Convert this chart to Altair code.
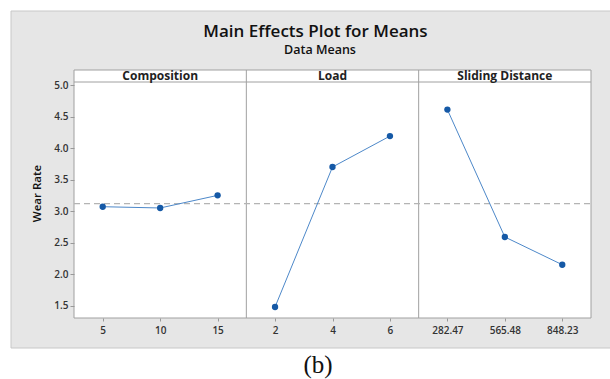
import altair as alt
import pandas as pd

factors = ["Composition", "Composition", "Composition", "Load", "Load", "Load",
           "Sliding Distance", "Sliding Distance", "Sliding Distance"]
levels = ["5", "10", "15", "2", "4", "6", "282.47", "565.48", "848.23"]
wear_rate = [3.07, 3.05, 3.25, 1.48, 3.70, 4.19, 4.61, 2.59, 2.15]
grand_mean = 3.12
panel_names = ["Composition", "Load", "Sliding Distance"]
panel_centers = ["Composition|10", "Load|4", "Sliding Distance|565.48"]
y_ticks = [1.5, 2.0, 2.5, 3.0, 3.5, 4.0, 4.5, 5.0]

keys = [f"{f}|{l}" for f, l in zip(factors, levels)]
df = pd.DataFrame({"factor": factors, "key": keys, "wear": wear_rate})
hdr = pd.DataFrame({"name": panel_names, "key": panel_centers})

W, H = 517, 236
FONT = "Open Sans"

xscale = alt.Scale(type="point", domain=keys, padding=0.5)
yscale = alt.Scale(domain=[1.305, 5.048], nice=False, zero=False)

X = alt.X("key:N", scale=xscale, sort=keys,
          axis=alt.Axis(title=None, labelExpr="split(datum.label, '|')[1]",
                        labelAngle=0, labelFont=FONT, labelFontSize=10,
                        labelFontWeight=600, labelColor="#333333",
                        tickSize=3, tickColor="#999999", labelPadding=4,
                        labelOverlap=False, labelBound=False,
                        domain=False, grid=False, zindex=1))
Y = alt.Y("wear:Q", scale=yscale,
          axis=alt.Axis(title="Wear Rate", values=y_ticks, tickCount=20, format=".1f",
                        labelFont=FONT, labelFontSize=10, labelFontWeight=600,
                        labelColor="#333333", tickSize=4, tickColor="#999999",
                        labelPadding=2, labelOverlap=False, labelBound=False,
                        labelFlush=False,
                        domain=False, grid=False, zindex=1,
                        titleFont=FONT, titleFontSize=11.5, titleFontWeight=600,
                        titleColor="#111111", titleX=-37, titleY=111,
                        titleAngle=-90, titleAlign="center", titleBaseline="middle"))

base = alt.Chart(df)
one = "datum.key == 'Composition|5'"

gray_bg = base.mark_rect(fill="#e6e6e6", stroke="#c8c8c8", strokeWidth=1).encode(
    x=alt.value(-63), x2=alt.value(W + 30), y=alt.value(-71), y2=alt.value(266)
).transform_filter(one)

plot_bg = base.mark_rect(fill="white", stroke="#a0a0a0", strokeWidth=1).encode(
    x=alt.value(0), x2=alt.value(W), y=alt.value(-12), y2=alt.value(H)
).transform_filter(one)

strip_line = base.mark_rule(color="#a0a0a0", strokeWidth=1).encode(
    x=alt.value(0), x2=alt.value(W), y=alt.value(0)
).transform_filter(one)

div1 = base.mark_rule(color="#a0a0a0", strokeWidth=1).encode(
    x=alt.value(W / 3), y=alt.value(-12), y2=alt.value(H)
).transform_filter(one)
div2 = base.mark_rule(color="#a0a0a0", strokeWidth=1).encode(
    x=alt.value(2 * W / 3), y=alt.value(-12), y2=alt.value(H)
).transform_filter(one)

mean_line = base.mark_rule(color="#b4b4b4", strokeDash=[6, 4], strokeWidth=1.3).encode(
    y=alt.datum(grand_mean, scale=yscale), x=alt.value(0), x2=alt.value(W)
).transform_filter(one)

lines = base.mark_line(color="#4d88c9", strokeWidth=1).encode(
    x=X, y=Y, detail="factor:N"
)
points = base.mark_point(filled=True, shape="circle", size=40, color="#1559a6",
                         opacity=1).encode(x=X, y=Y)

headers = alt.Chart(hdr).mark_text(font=FONT, fontSize=12, fontWeight="bold",
                                   color="#222222", baseline="alphabetic").encode(
    x=alt.X("key:N", scale=xscale, sort=keys), y=alt.value(-2), text="name:N"
)

title = base.mark_text(font=FONT, fontSize=17, fontWeight=600, color="#111111",
                       baseline="alphabetic").encode(
    x=alt.value(241.5), y=alt.value(-45), text=alt.value("Main Effects Plot for Means")
).transform_filter(one)
subtitle = base.mark_text(font=FONT, fontSize=12.5, fontWeight=600, color="#111111",
                          baseline="alphabetic").encode(
    x=alt.value(246), y=alt.value(-28), text=alt.value("Data Means")
).transform_filter(one)
caption = base.mark_text(font="Liberation Serif", fontSize=25, color="#111111",
                         baseline="alphabetic").encode(
    x=alt.value(244), y=alt.value(291), text=alt.value("(b)")
).transform_filter(one)

chart = alt.layer(
    gray_bg, plot_bg, strip_line, div1, div2, mean_line, lines, points,
    headers, title, subtitle, caption
).properties(
    width=W, height=H,
    autosize=alt.AutoSizeParams(type="none"),
    padding={"left": 74, "top": 82, "right": 19, "bottom": 61},
    background="white",
).configure_view(strokeWidth=0)

chart.save("out.html", embed_options={"renderer": "svg", "actions": False})
